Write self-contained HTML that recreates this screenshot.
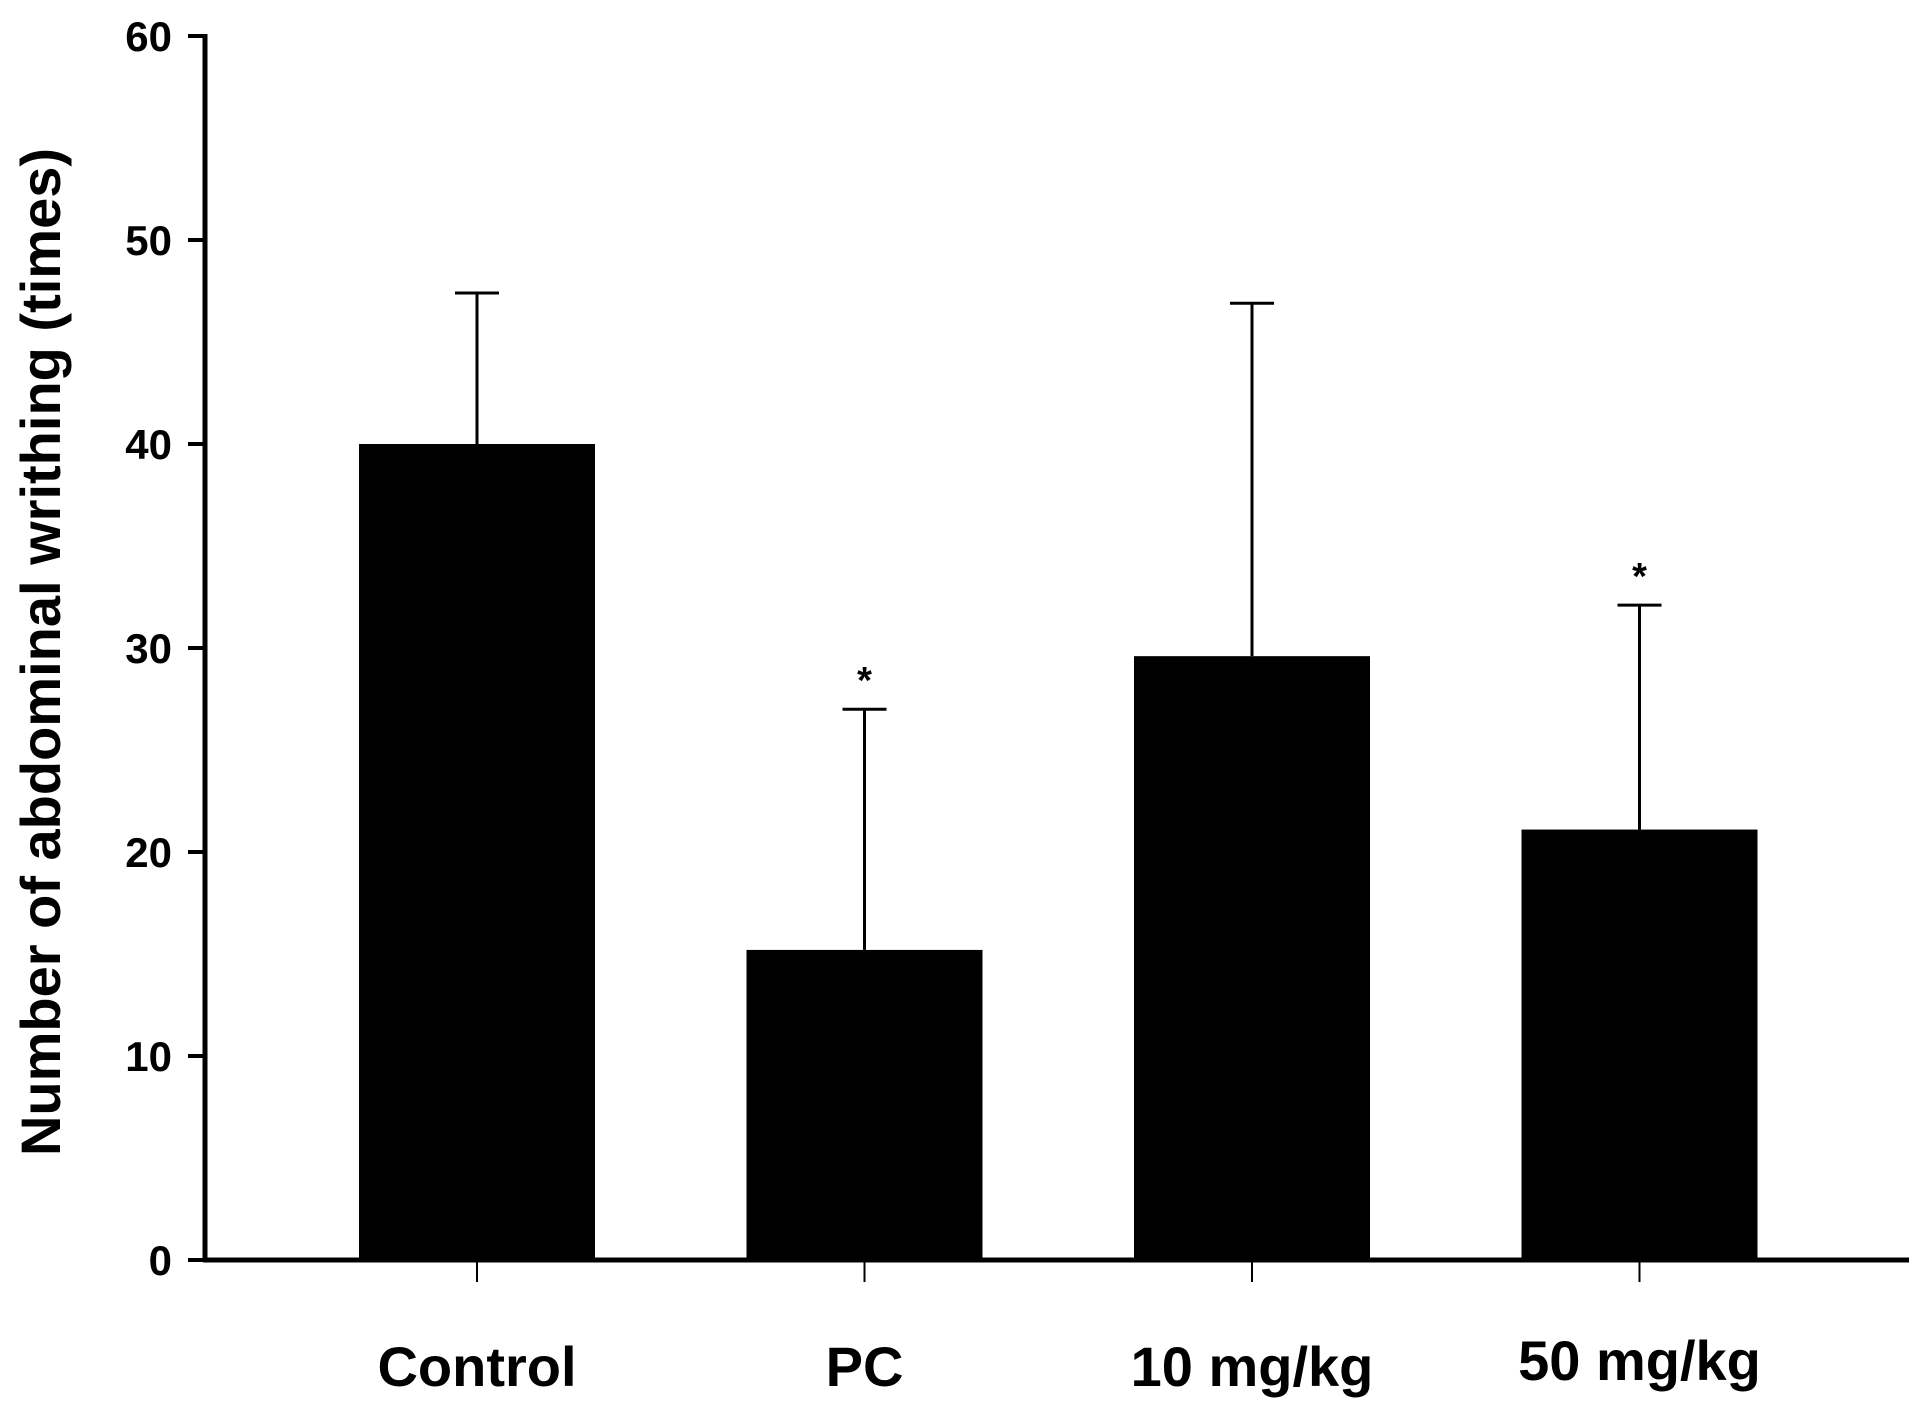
<!DOCTYPE html>
<html><head><meta charset="utf-8"><style>
html,body{margin:0;padding:0;background:#fff;}
svg{display:block;font-family:"Liberation Sans",Arial,sans-serif;font-weight:bold;}
</style></head><body>
<svg id="chart" width="1929" height="1409" viewBox="0 0 1929 1409" xmlns="http://www.w3.org/2000/svg">
<g id="plot"></g>
</svg>
<script>
const categories = ["Control","PC","10 mg/kg","50 mg/kg"];
const means = [40.0, 15.2, 29.6, 21.1];
const errTops = [47.4, 27.0, 46.9, 32.1];
const signif = [false, true, false, true];
const yTicks = [0,10,20,30,40,50,60];

const NS = "http://www.w3.org/2000/svg";
const g = document.getElementById('plot');
const X0 = 205, X1 = 1909, Y0 = 1260, YTOP = 36, YMAX = 60;
const y = v => Y0 - (v / YMAX) * (Y0 - YTOP);
const xc = i => 477 + i * 387.5;
const barW = 236;
function el(tag, attrs, text) {
  const e = document.createElementNS(NS, tag);
  for (const k in attrs) e.setAttribute(k, attrs[k]);
  if (text !== undefined) e.textContent = text;
  g.appendChild(e);
  return e;
}
const labelY = [1386, 1386, 1386, 1380];
categories.forEach((c, i) => {
  const b = el('rect', {x: xc(i) - barW/2, y: y(means[i]), width: barW, height: Y0 - y(means[i]), fill: '#000'});
  
  
  const e1 = el('line', {x1: xc(i), x2: xc(i), y1: y(means[i]), y2: y(errTops[i]), stroke: '#000', 'stroke-width': 3});
  
  
  const e2 = el('line', {x1: xc(i) - 22, x2: xc(i) + 22, y1: y(errTops[i]), y2: y(errTops[i]), stroke: '#000', 'stroke-width': 3});
  
  
  if (signif[i]) {
    const s = el('text', {x: xc(i), y: y(errTops[i]) - 16, 'text-anchor': 'middle', 'font-size': 38}, '*');
    
    
  }
  const tk = el('line', {x1: xc(i), x2: xc(i), y1: Y0, y2: Y0 + 22, stroke: '#000', 'stroke-width': 2});
  
  
  const lb = el('text', {x: xc(i), y: labelY[i], 'text-anchor': 'middle', 'font-size': 56}, c);
  
  
});
const ya = el('line', {x1: X0, x2: X0, y1: YTOP - 2, y2: Y0 + 2, stroke: '#000', 'stroke-width': 5});


const xa = el('line', {x1: X0 - 2, x2: X1, y1: Y0, y2: Y0, stroke: '#000', 'stroke-width': 5});


yTicks.forEach(v => {
  const t = el('line', {x1: X0 - 17, x2: X0, y1: y(v), y2: y(v), stroke: '#000', 'stroke-width': 4});
  
  
  const l = el('text', {x: 172, y: y(v) + 15, 'text-anchor': 'end', 'font-size': 42}, String(v));
  
  
});
const yt = el('text', {x: 0, y: 0, 'text-anchor': 'middle', 'font-size': 56, transform: 'translate(60,652) rotate(-90)'}, 'Number of abdominal writhing (times)');


</script>
</body></html>
